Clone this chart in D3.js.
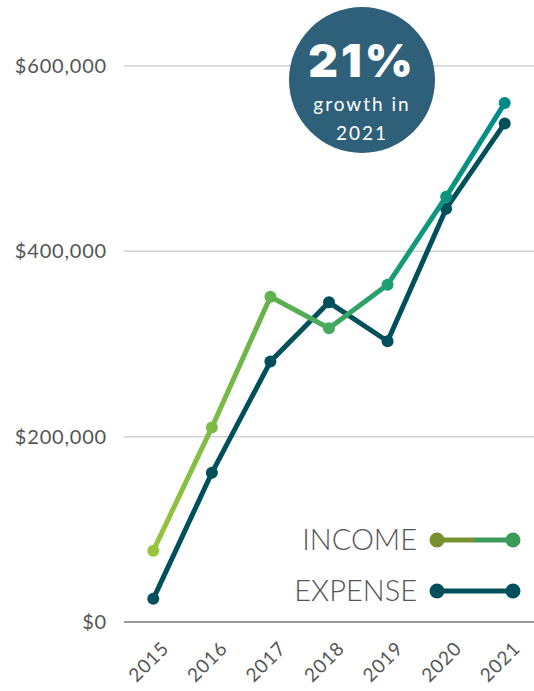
<!DOCTYPE html>
<html>
<head>
<meta charset="utf-8">
<script src="https://cdn.jsdelivr.net/npm/d3@7"></script>
<style>
  body { margin: 0; background: #fff; }
  svg text { font-family: "Lato", "Open Sans", sans-serif; }
</style>
</head>
<body>
<div id="chart"></div>
<script>
const years = ["2015", "2016", "2017", "2018", "2019", "2020", "2021"];
const income = [77000, 210000, 351000, 317000, 364000, 459000, 560000];
const expense = [25000, 161000, 281000, 345000, 303000, 446000, 538000];
const yTicks = [0, 200000, 400000, 600000];

const W = 534, H = 691;
const plotLeft = 124, plotRight = 534, plotTop = 66, plotBottom = 622;

const svg = d3.select("#chart").append("svg")
    .attr("width", W)
    .attr("height", H);

const x = d3.scalePoint()
    .domain(years)
    .range([plotLeft, plotRight])
    .padding(0.5);

const y = d3.scaleLinear()
    .domain([0, 600000])
    .range([plotBottom, plotTop]);

// gridlines
svg.append("g")
    .selectAll("line")
    .data(yTicks.filter(d => d > 0))
    .enter()
    .append("line")
    .attr("x1", plotLeft)
    .attr("x2", plotRight)
    .attr("y1", d => y(d))
    .attr("y2", d => y(d))
    .attr("stroke", "#d2d2d2")
    .attr("stroke-width", 1.5);

// baseline
svg.append("line")
    .attr("x1", plotLeft)
    .attr("x2", plotRight)
    .attr("y1", y(0))
    .attr("y2", y(0))
    .attr("stroke", "#9a9a9a")
    .attr("stroke-width", 2);

// y labels
svg.append("g")
    .selectAll("text")
    .data(yTicks)
    .enter()
    .append("text")
    .attr("x", 107)
    .attr("y", d => y(d))
    .attr("dy", "0.35em")
    .attr("text-anchor", "end")
    .attr("font-size", 20)
    .attr("letter-spacing", 0.8)
    .attr("fill", "#555")
    .text(d => "$" + d3.format(",")(d));

// x labels
svg.append("g")
    .selectAll("text")
    .data(years)
    .enter()
    .append("text")
    .attr("transform", d => "translate(" + (x(d) + 12) + "," + 645 + ") rotate(-45)")
    .attr("text-anchor", "end")
    .attr("dy", "0.35em")
    .attr("font-size", 19)
    .attr("letter-spacing", 0.8)
    .attr("fill", "#555")
    .text(d => d);

// income gradient
const defs = svg.append("defs");
const grad = defs.append("linearGradient")
    .attr("id", "incomeGrad")
    .attr("gradientUnits", "userSpaceOnUse")
    .attr("x1", x("2015")).attr("x2", x("2021"))
    .attr("y1", 0).attr("y2", 0);
[[0, "#98c53d"], [0.3, "#68b44a"], [0.5, "#46a85e"], [0.7, "#159c76"], [1, "#008a8a"]].forEach(s => {
    grad.append("stop").attr("offset", s[0]).attr("stop-color", s[1]);
});

const line = d3.line()
    .x((d, i) => x(years[i]))
    .y(d => y(d));

svg.append("path")
    .datum(expense)
    .attr("d", line)
    .attr("fill", "none")
    .attr("stroke", "#00505b")
    .attr("stroke-width", 5)
    .attr("stroke-linejoin", "round");

svg.append("g")
    .selectAll("circle")
    .data(expense)
    .enter()
    .append("circle")
    .attr("cx", (d, i) => x(years[i]))
    .attr("cy", d => y(d))
    .attr("r", 6)
    .attr("fill", "#00505b");

svg.append("path")
    .datum(income)
    .attr("d", line)
    .attr("fill", "none")
    .attr("stroke", "url(#incomeGrad)")
    .attr("stroke-width", 5)
    .attr("stroke-linejoin", "round");

svg.append("g")
    .selectAll("circle")
    .data(income)
    .enter()
    .append("circle")
    .attr("cx", (d, i) => x(years[i]))
    .attr("cy", d => y(d))
    .attr("r", 6)
    .attr("fill", "url(#incomeGrad)");

// badge
const badge = svg.append("g").attr("transform", "translate(362,80)");
badge.append("circle").attr("r", 73).attr("fill", "#2e6079");
badge.append("text")
    .attr("y", -3)
    .attr("text-anchor", "middle")
    .attr("font-size", 46)
    .attr("font-weight", 900)
    .attr("letter-spacing", 3)
    .attr("fill", "#fff")
    .style("font-family", "Inter, sans-serif")
    .text("21%");
badge.append("text")
    .attr("y", 31)
    .attr("text-anchor", "middle")
    .attr("font-size", 19)
    .attr("letter-spacing", 2)
    .attr("fill", "#fff")
    .text("growth in");
badge.append("text")
    .attr("y", 60)
    .attr("text-anchor", "middle")
    .attr("font-size", 19)
    .attr("letter-spacing", 2)
    .attr("fill", "#fff")
    .text("2021");

// legend
const legend = [
    { name: "INCOME", y: 540, c1: "#78902f", c2: "#3c9b58" },
    { name: "EXPENSE", y: 591, c1: "#00505b", c2: "#00505b" }
];
legend.forEach((l, i) => {
    const lg = defs.append("linearGradient").attr("id", "lg" + i);
    lg.append("stop").attr("offset", 0).attr("stop-color", l.c1);
    lg.append("stop").attr("offset", 0.5).attr("stop-color", l.c1);
    lg.append("stop").attr("offset", 0.5).attr("stop-color", l.c2);
    lg.append("stop").attr("offset", 1).attr("stop-color", l.c2);
    const g = svg.append("g");
    g.append("rect")
        .attr("x", 437).attr("y", l.y - 2.5)
        .attr("width", 76).attr("height", 5)
        .attr("fill", "url(#lg" + i + ")");
    g.append("circle").attr("cx", 437).attr("cy", l.y).attr("r", 7.5).attr("fill", l.c1);
    g.append("circle").attr("cx", 513).attr("cy", l.y).attr("r", 7.5).attr("fill", l.c2);
    g.append("text")
        .attr("x", 417)
        .attr("y", l.y)
        .attr("dy", "0.35em")
        .attr("text-anchor", "end")
        .attr("font-size", 29)
        .attr("font-weight", 300)
        .attr("fill", "#555")
        .text(l.name);
});
</script>
</body>
</html>
